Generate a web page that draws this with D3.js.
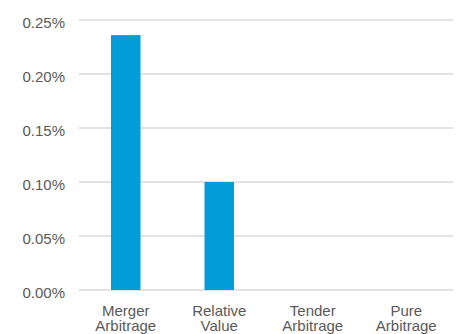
<!DOCTYPE html>
<html>
<head>
<meta charset="utf-8">
<script src="https://cdn.jsdelivr.net/npm/d3@7"></script>
<style>
  body { margin: 0; background: #fff; }
  text { font-family: "Liberation Sans", Arial, sans-serif; fill: #595959; }
</style>
</head>
<body>
<div id="chart"></div>
<script>
// data
var categories = ["Merger Arbitrage", "Relative Value", "Tender Arbitrage", "Pure Arbitrage"];
var values = [0.00236, 0.0010, 0, 0];
var yTicks = [0, 0.0005, 0.0010, 0.0015, 0.0020, 0.0025];

var svgWidth = 459, svgHeight = 334;
var margin = { top: 20, right: 6, bottom: 44, left: 79 };
var width = svgWidth - margin.left - margin.right;
var height = svgHeight - margin.top - margin.bottom;

var svg = d3.select("#chart").append("svg")
  .attr("width", svgWidth)
  .attr("height", svgHeight);

var chartGroup = svg.append("g")
  .attr("transform", `translate(${margin.left}, ${margin.top})`);

var xScale = d3.scaleBand()
  .domain(categories)
  .range([0, width])
  .paddingInner(0.685)
  .paddingOuter(0.3425);

var yScale = d3.scaleLinear()
  .domain([0, 0.0025])
  .range([height, 0]);

// gridlines
chartGroup.selectAll(".grid")
  .data(yTicks)
  .enter()
  .append("line")
  .attr("x1", 0)
  .attr("x2", width)
  .attr("y1", d => yScale(d))
  .attr("y2", d => yScale(d))
  .attr("stroke", "#d9d9d9")
  .attr("stroke-width", 1.3);

// y axis labels
var leftAxis = d3.axisLeft(yScale)
  .tickValues(yTicks)
  .tickFormat(d3.format(".2%"))
  .tickSize(0)
  .tickPadding(14);

var yAxis = chartGroup.append("g").call(leftAxis);
yAxis.select(".domain").remove();
yAxis.selectAll("text")
  .attr("font-size", "15px")
  .attr("font-family", "Liberation Sans, Arial, sans-serif")
  .attr("fill", "#595959")
  .attr("dy", "0.5em");

// bars
chartGroup.selectAll(".bar")
  .data(values)
  .enter()
  .append("rect")
  .attr("x", (d, i) => xScale(categories[i]))
  .attr("y", d => yScale(d))
  .attr("width", xScale.bandwidth())
  .attr("height", d => height - yScale(d))
  .attr("fill", "#009dd9");

// x labels, two lines each
var labels = chartGroup.selectAll(".xlabel")
  .data(categories)
  .enter()
  .append("text")
  .attr("text-anchor", "middle")
  .attr("font-size", "15px")
  .attr("x", d => xScale(d) + xScale.bandwidth() / 2)
  .attr("y", height + 25.5);

labels.each(function(d) {
  var words = d.split(" ");
  var t = d3.select(this);
  words.forEach(function(w, i) {
    t.append("tspan")
      .attr("x", xScale(d) + xScale.bandwidth() / 2)
      .attr("dy", i === 0 ? 0 : 15.5)
      .text(w);
  });
});
</script>
</body>
</html>
